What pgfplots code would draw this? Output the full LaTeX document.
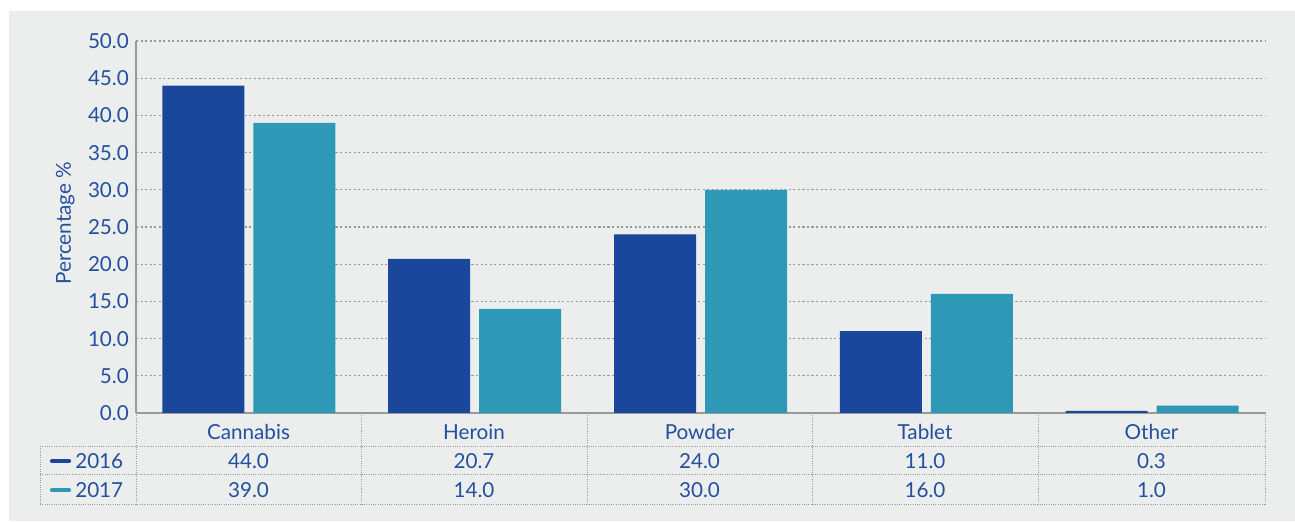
\documentclass[border=0pt]{standalone}
\usepackage{fontspec}
\setmainfont{Lato}
\usepackage{pgfplots}
\pgfplotsset{compat=1.18}
\definecolor{bgc}{HTML}{ECEEED}
\definecolor{cA}{HTML}{1A479C}
\definecolor{cB}{HTML}{2E98B7}
\definecolor{tc}{HTML}{234FA0}
\definecolor{gridc}{HTML}{9A9A9A}
\begin{document}
\fontsize{15.5}{18}\selectfont
\begin{tikzpicture}
\begin{scope}[x=0.75pt,y=0.75pt]
\fill[white] (0,0) rectangle (1295,521);
\fill[bgc] (9,0) rectangle (1295,510);
\end{scope}
\begin{axis}[
  at={(102pt,81pt)}, anchor=south west,
  scale only axis, width=846.75pt, height=279pt,
  xmin=-0.5, xmax=4.5, ymin=0, ymax=50,
  ybar=6.75pt, bar width=61.5pt,
  axis x line*=bottom, axis y line*=left,
  x axis line style={gridc, line width=1.5pt, -},
  y axis line style={gridc, line width=0.8pt, -},
  xtick=\empty,
  ytick={0,5,...,50},
  major tick length=0pt,
  ymajorgrids,
  grid style={dash pattern=on 1.6pt off 1.8pt, gridc, line width=0.8pt},
  yticklabel style={/pgf/number format/.cd, fixed, fixed zerofill, precision=1, assume math mode=true},
  tick label style={text=tc, font=\fontsize{15.5}{18}\selectfont},
  ylabel={Percentage \%},
  ylabel style={at={(axis description cs:-0.0626,0.51)}, anchor=center, text=tc, font=\fontsize{15.5}{18}\selectfont},
]
\addplot[fill=cA, draw=none] coordinates {(0,44.0) (1,20.7) (2,24.0) (3,11.0) (4,0.3)};
\addplot[fill=cB, draw=none] coordinates {(0,39.0) (1,14.0) (2,30.0) (3,16.0) (4,1.0)};
\end{axis}
\begin{scope}[x=0.75pt,y=0.75pt]
\foreach \xx in {136,361,587,812,1038,1265} \draw[densely dotted, gridc, line width=0.7pt] (\xx,108) -- (\xx,17);
\draw[densely dotted, gridc, line width=0.7pt] (40,75) -- (40,17);
\foreach \yy in {75,47,17} \draw[densely dotted, gridc, line width=0.7pt] (40,\yy) -- (1265,\yy);
\draw[cA, line width=3.2pt, line cap=round] (52,60) -- (69,60);
\draw[cB, line width=3.2pt, line cap=round] (52,31) -- (69,31);
\node[anchor=west, text=tc, inner sep=0] at (75,60) {2016};
\node[anchor=west, text=tc, inner sep=0] at (75,31) {2017};
\foreach \cx/\nm/\a/\b in {248.5/Cannabis/44.0/39.0, 474/Heroin/20.7/14.0, 699.5/Powder/24.0/30.0, 925/Tablet/11.0/16.0, 1151.5/Other/0.3/1.0} {
  \node[text=tc] at (\cx,89) {\nm};
  \node[text=tc] at (\cx,60) {\a};
  \node[text=tc] at (\cx,31) {\b};
}
\end{scope}
\end{tikzpicture}
\end{document}
